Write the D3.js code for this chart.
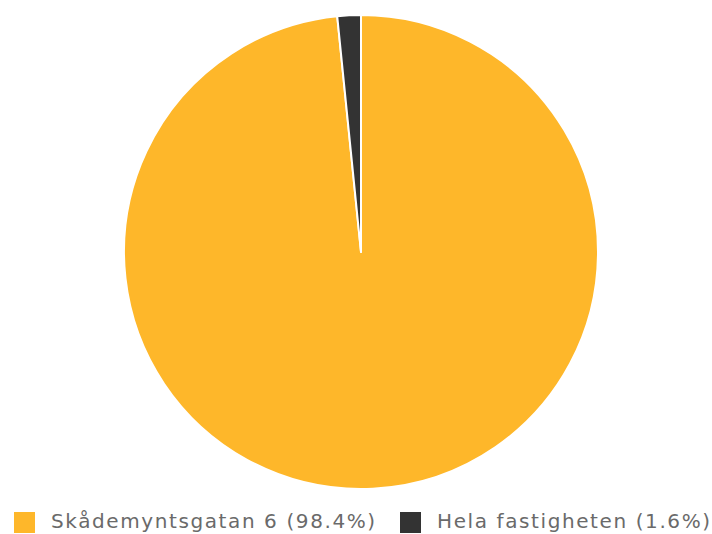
<!DOCTYPE html>
<html>
<head>
<meta charset="utf-8">
<script src="https://cdn.jsdelivr.net/npm/d3@7"></script>
<style>
  body { margin: 0; background: #fff; }
  text { font-family: "DejaVu Sans", sans-serif; }
</style>
</head>
<body>
<div id="chart"></div>
<script>
// data
var labels = ["Skådemyntsgatan 6", "Hela fastigheten"];
var values = [98.4, 1.6];
var colors = ["#FEB72A", "#333333"];

var width = 712, height = 534;
var cx = 361, cy = 252, radius = 237;

var svg = d3.select("#chart")
  .append("svg")
    .attr("width", width)
    .attr("height", height);

var pie = d3.pie().sort(null).value(function(d) { return d; });
var arc = d3.arc().innerRadius(0).outerRadius(radius);

var g = svg.append("g")
  .attr("transform", "translate(" + cx + "," + cy + ")");

g.selectAll("path")
  .data(pie(values))
  .enter()
  .append("path")
    .attr("d", arc)
    .attr("fill", function(d, i) { return colors[i]; })
    .attr("stroke", "#fff")
    .attr("stroke-width", 2)
    .attr("stroke-linejoin", "round");

// legend
var legendX = [14, 400];
var legend = svg.selectAll(".legend")
  .data(labels)
  .enter()
  .append("g")
    .attr("class", "legend")
    .attr("transform", function(d, i) { return "translate(" + legendX[i] + ",512)"; });

legend.append("rect")
  .attr("width", 21)
  .attr("height", 21)
  .attr("fill", function(d, i) { return colors[i]; });

legend.append("text")
  .attr("x", 37)
  .attr("y", 16)
  .attr("fill", "#6a6a6a")
  .style("font-size", "20px")
  .style("letter-spacing", "1.6px")
  .text(function(d, i) { return d + " (" + values[i] + "%)"; });
</script>
</body>
</html>
